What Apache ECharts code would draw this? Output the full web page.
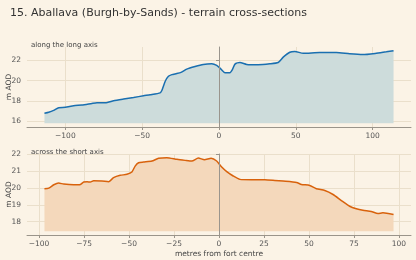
<!DOCTYPE html>
<html>
<head>
    <meta charset="utf-8">
    <title>Aballava terrain cross-sections</title>
    <script src="https://cdn.jsdelivr.net/npm/echarts@6/dist/echarts.min.js"></script>
    <style>
        html, body { margin: 0; padding: 0; background: #fbf3e6; }
    </style>
</head>
<body>
    <div id="main" style="width: 416px;height:260px;"></div>
    <script type="text/javascript">
        // 长轴剖面 (x: 距堡垒中心米数, y: m AOD)
        var longX = [-113.6, -110.8, -107.6, -104.3, -100, -94.6, -89.2, -82.7, -79.4, -74, -68.6, -62.1, -55.6, -49.1, -44.8,
            -38.3, -37.2, -35, -32.9, -30.7, -27.5, -24.7, -21, -15.6, -10.2, -4.7, -1.5, 1.3, 3.9, 7.1, 8.7, 10.4, 13.6, 18, 25.5,
            33.1, 38.5, 41.8, 46.1, 49.4, 54.8, 65.6, 76.4, 85, 93.7, 102.4, 108.9, 113.6];
        var longY = [16.76, 16.86, 17.05, 17.32, 17.35, 17.52, 17.58, 17.74, 17.81, 17.81, 18.0, 18.17, 18.33, 18.5, 18.6,
            18.79, 19.02, 19.94, 20.43, 20.6, 20.7, 20.82, 21.15, 21.41, 21.61, 21.67, 21.51, 21.15, 20.79, 20.79, 21.09, 21.64, 21.8, 21.61, 21.58,
            21.67, 21.8, 22.33, 22.82, 22.89, 22.72, 22.79, 22.79, 22.66, 22.59, 22.72, 22.86, 22.98];

        // 短轴剖面
        var shortX = [-97, -94.6, -91.8, -89.1, -86.3, -80.8, -77, -75.2, -73.3, -71.5, -69.7, -65, -61.4, -58.6, -54.9, -51.2,
            -48.4, -46.6, -44.7, -42, -37.3, -33.6, -29, -23.4, -18.8, -15.1, -11.5, -8.1, -4.4, -1.3, 1.5, 4.3, 7.9, 11.6, 18.1,
            25.5, 31, 35.6, 43.1, 45.8, 50.4, 54.1, 58.8, 63.4, 68, 72.6, 76.3, 80, 84.6, 88.3, 91.1, 97];
        var shortY = [19.95, 19.99, 20.19, 20.29, 20.23, 20.19, 20.21, 20.35, 20.37, 20.35, 20.43, 20.41, 20.37, 20.61, 20.75, 20.81,
            20.95, 21.30, 21.50, 21.54, 21.6, 21.76, 21.8, 21.7, 21.64, 21.6, 21.78, 21.68, 21.76, 21.6, 21.24, 20.97, 20.71, 20.51, 20.49,
            20.49, 20.45, 20.41, 20.33, 20.21, 20.15, 19.95, 19.85, 19.61, 19.25, 18.91, 18.76, 18.67, 18.6, 18.48, 18.52, 18.42];

        var longXTicks = [-100, -50, 0, 50, 100];
        var longYTicks = [16, 18, 20, 22];
        var shortXTicks = [-100, -75, -50, -25, 0, 25, 50, 75, 100];
        var shortYTicks = [18, 19, 20, 21, 22];

        function pairs(xs, ys) {
            return xs.map(function (x, i) { return [x, ys[i]]; });
        }
        function fmt(v) {
            return v < 0 ? '\u2212' + (-v) : String(v);
        }
        function minOf(a) { return Math.min.apply(null, a); }
        function maxOf(a) { return Math.max.apply(null, a); }
        // matplotlib 风格 5% 边距
        function pad(lo, hi) { var m = (hi - lo) * 0.05; return [lo - m, hi + m]; }

        var longBase = minOf(longY) - 1;
        var shortBase = minOf(shortY) - 1;
        var lxr = pad(minOf(longX), maxOf(longX));
        var lyr = pad(longBase, maxOf(longY));
        var sxr = pad(minOf(shortX), maxOf(shortX));
        var syr = pad(shortBase, maxOf(shortY));

        var font = 'DejaVu Sans';
        var axisCol = '#9a948a';
        var gridCol = '#eadfcb';

        function xAxisCfg(idx, range, ticks, name) {
            return {
                type: 'value', gridIndex: idx, min: range[0], max: range[1],
                name: name || '', nameLocation: 'middle', nameGap: 15, nameMoveOverlap: false,
                nameTextStyle: { fontFamily: font, fontSize: 7.5, color: '#444' },
                axisLine: { onZero: false, lineStyle: { color: axisCol, width: 1 } },
                axisTick: { customValues: ticks, length: 3, lineStyle: { color: axisCol } },
                axisLabel: { customValues: ticks, formatter: fmt, margin: 5, fontFamily: font, fontSize: 7.5, color: '#555' },
                splitLine: { show: true, lineStyle: { color: gridCol, width: 1 } }
            };
        }
        function yAxisCfg(idx, range, ticks) {
            return {
                type: 'value', gridIndex: idx, min: range[0], max: range[1],
                name: 'm AOD', nameLocation: 'middle', nameGap: 14, nameRotate: 90, nameMoveOverlap: false,
                nameTextStyle: { fontFamily: font, fontSize: 7.5, color: '#444' },
                axisLine: { show: true, lineStyle: { color: axisCol, width: 1 } },
                axisTick: { show: true, customValues: ticks, length: 3, lineStyle: { color: axisCol } },
                axisLabel: { customValues: ticks, margin: 6, fontFamily: font, fontSize: 7.5, color: '#555' },
                splitLine: { show: true, lineStyle: { color: gridCol, width: 1 } }
            };
        }

        var zeroLine = {
            silent: true, symbol: 'none', label: { show: false },
            lineStyle: { color: '#9a958d', width: 1, type: 'solid' },
            data: [{ xAxis: 0 }]
        };

        var myChart = echarts.init(document.getElementById('main'));
        myChart.setOption({
            backgroundColor: '#fbf3e6',
            animation: false,
            title: [
                { text: '15. Aballava (Burgh-by-Sands) - terrain cross-sections', left: 5, top: 1,
                  textStyle: { fontFamily: font, fontSize: 11, fontWeight: 'normal', color: '#333', lineHeight: 14 } },
                { text: 'along the long axis', left: 26, top: 37,
                  textStyle: { fontFamily: font, fontSize: 7, fontWeight: 'normal', color: '#444' } },
                { text: 'across the short axis', left: 26, top: 144,
                  textStyle: { fontFamily: font, fontSize: 7, fontWeight: 'normal', color: '#444' } }
            ],
            grid: [
                { left: 27, right: 5, top: 47, height: 80, outerBoundsMode: 'none', containLabel: false },
                { left: 27, right: 5, top: 154, height: 81, outerBoundsMode: 'none', containLabel: false }
            ],
            xAxis: [
                xAxisCfg(0, lxr, longXTicks),
                xAxisCfg(1, sxr, shortXTicks, 'metres from fort centre')
            ],
            yAxis: [
                yAxisCfg(0, lyr, longYTicks),
                yAxisCfg(1, syr, shortYTicks)
            ],
            series: [
                {
                    type: 'line', xAxisIndex: 0, yAxisIndex: 0, data: pairs(longX, longY),
                    symbol: 'none', smooth: 0.2,
                    lineStyle: { color: '#1a6fb0', width: 1.5 },
                    areaStyle: { origin: longBase, color: '#cddcdb', opacity: 1 },
                    markLine: zeroLine
                },
                {
                    type: 'line', xAxisIndex: 1, yAxisIndex: 1, data: pairs(shortX, shortY),
                    symbol: 'none', smooth: 0.2,
                    lineStyle: { color: '#d8620c', width: 1.5 },
                    areaStyle: { origin: shortBase, color: '#f4d8bb', opacity: 1 },
                    markLine: zeroLine
                }
            ]
        });
    </script>
</body>
</html>
